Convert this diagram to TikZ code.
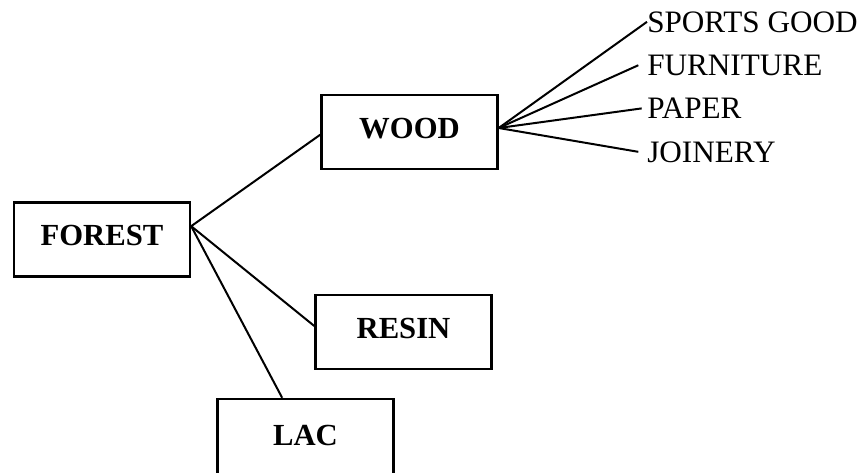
\documentclass[tikz,border=0pt]{standalone}
\usepackage{fontspec}
\setmainfont{Liberation Serif}
\usetikzlibrary{positioning}

\begin{document}
\begin{tikzpicture}[x=0.75pt,y=-0.75pt,
    box/.style={draw,line width=1.8pt,minimum width=132pt,minimum height=55.5pt,inner sep=0pt,text depth=6pt,font=\fontsize{23}{27}\selectfont\bfseries},
    item/.style={anchor=base west,inner sep=0pt,font=\fontsize{23.4}{27}\selectfont},
    link/.style={line width=1.5pt}]
    \useasboundingbox (0,0) rectangle (861,472);
    % boxes
    \node[box] (forest) at (102,239.5) {FOREST};
    \node[box] (wood) at (409.5,132) {WOOD};
    \node[box] (resin) at (403.5,332) {RESIN};
    \node[box,minimum height=60pt] (lac) at (305.5,439) {LAC};
    % uses of wood
    \node[item] (sports) at (647,32) {SPORTS GOOD};
    \node[item] (furniture) at (647,75.3) {FURNITURE};
    \node[item] (paper) at (647,118.7) {PAPER};
    \node[item] (joinery) at (647,162) {JOINERY};
    \coordinate (fo) at ([yshift=10pt]forest.east);
    \coordinate (wo) at ([yshift=3pt]wood.east);
    \draw[link] (fo) -- ([yshift=-2pt]wood.west);
    \draw[link] (fo) -- ([yshift=4.5pt]resin.west);
    \draw[link] (fo) -- ([xshift=-17.5pt]lac.north);
    \foreach \s/\g in {sports/0, furniture/6.5, paper/4, joinery/6.5}
        \draw[link] (wo) -- ([xshift=-\g pt]\s.west);
\end{tikzpicture}
\end{document}
